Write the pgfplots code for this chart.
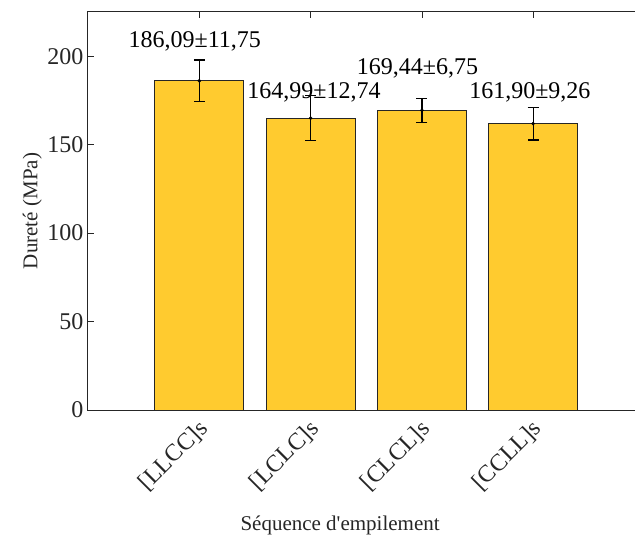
\documentclass[border=0pt]{standalone}
\usepackage{pgfplots}
\pgfplotsset{compat=1.18}
\usepackage{fontspec}
\setmainfont{Liberation Serif}[Ligatures=TeXOff]
\definecolor{barfill}{RGB}{255,203,47}
\definecolor{axcol}{RGB}{38,38,38}
\begin{document}
\begin{tikzpicture}
\begin{axis}[
  at={(0,0)}, anchor=south west,
  scale only axis,
  width=556.5bp, height=398bp,
  xmin=0, xmax=5, ymin=0, ymax=225,
  xtick={1,2,3,4},
  xticklabels={{[LLCC]s},{[LCLC]s},{[CLCL]s},{[CCLL]s}},
  ytick={0,50,100,150,200},
  tick align=inside,
  major tick length=6bp,
  tick style={axcol, line width=0.8bp},
  axis line style={axcol, line width=1bp},
  /pgf/number format/assume math mode=true,
  tick label style={font=\fontsize{24bp}{28bp}\selectfont, text=axcol},
  xticklabel style={rotate=45, anchor=east, xshift=-4bp, yshift=-14bp},
  yticklabel style={xshift=-1bp},
  label style={font=\fontsize{21bp}{25bp}\selectfont, text=axcol},
  xlabel={Séquence d'empilement},
  ylabel={Dureté (MPa)},
  xlabel style={at={(axis description cs:0.453,0)}, anchor=base, yshift=-120bp},
  ylabel style={at={(axis description cs:-0.1,0.5)}, anchor=center},
  clip=false,
]
\addplot[ybar, bar width=89bp, fill=barfill, draw=black!85, line width=0.8bp,
  error bars/.cd, y dir=both, y explicit,
  error bar style={black, line width=1.4bp},
  error mark options={rotate=90, mark size=5.5bp, line width=1.4bp, black}]
coordinates {
  (1,186.09) +- (0,11.75)
  (2,164.99) +- (0,12.74)
  (3,169.44) +- (0,6.75)
  (4,161.90) +- (0,9.26)
};
\addplot[only marks, mark=*, mark size=1.6bp, black] coordinates {
  (1,186.09) (2,164.99) (3,169.44) (4,161.90)
};
\node[anchor=base, font=\fontsize{24bp}{28bp}\selectfont] at (axis cs:0.96,205.1) {186,09±11,75};
\node[anchor=base, font=\fontsize{24bp}{28bp}\selectfont] at (axis cs:2.03,176.3) {164,99±12,74};
\node[anchor=base, font=\fontsize{24bp}{28bp}\selectfont] at (axis cs:2.96,189.8) {169,44±6,75};
\node[anchor=base, font=\fontsize{24bp}{28bp}\selectfont] at (axis cs:3.97,176.3) {161,90±9,26};
\end{axis}
\pgfresetboundingbox
\path[use as bounding box] (-88bp,-130bp) rectangle (547bp,410bp);
\end{tikzpicture}
\end{document}
